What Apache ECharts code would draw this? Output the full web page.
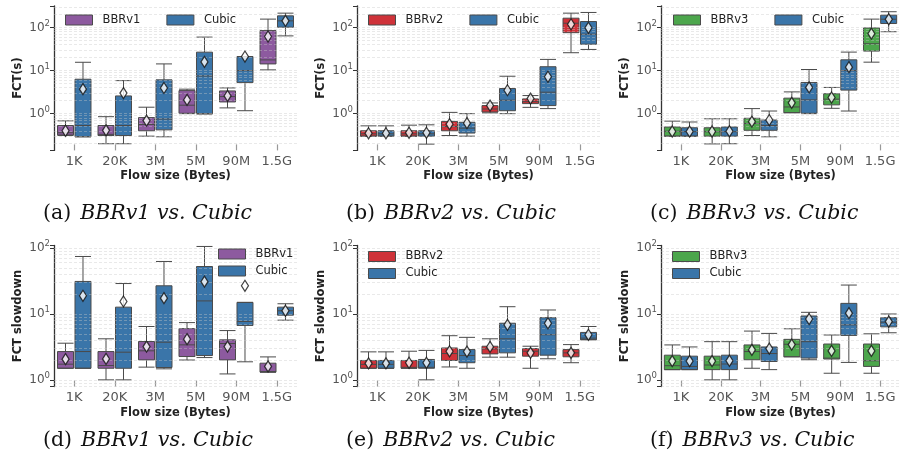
<!DOCTYPE html>
<html>
<head>
<meta charset="utf-8">
<script src="https://cdn.jsdelivr.net/npm/echarts@6/dist/echarts.min.js"></script>
<style>
  html, body { margin: 0; padding: 0; background: #fff; }
  #chart { width: 900px; height: 470px; }
</style>
</head>
<body>
<div id="chart"></div>
<script>
// flow sizes on the x axis
var sizes = ['1K', '20K', '3M', '5M', '90M', '1.5G'];

// boxes are [low whisker, Q1, median, Q3, high whisker], means are the diamonds
// (a) FCT, BBRv1 vs Cubic
var fctBbr1 = [[0.31, 0.32, 0.36, 0.53, 0.68], [0.2, 0.31, 0.33, 0.53, 0.85], [0.30, 0.40, 0.56, 0.81, 1.41],
               [1.0, 1.02, 1.57, 3.43, 3.7], [1.36, 1.87, 2.49, 3.37, 3.96], [10.4, 14.3, 17.7, 85, 157]];
var fctBbr1Mean = [0.40, 0.41, 0.69, 2.08, 2.58, 62];
var fctCubicA = [[0.29, 0.29, 0.53, 6.3, 15.6], [0.2, 0.31, 0.53, 2.58, 5.85], [0.29, 0.42, 0.75, 6.1, 14.3],
                 [0.98, 1.0, 7.5, 26.8, 60], [1.17, 5.26, 10, 21.2, 21.2], [64, 102, 143, 187, 216]];
var fctCubicAMean = [3.7, 3.0, 3.95, 15.9, 21.2, 143];

// (b) FCT, BBRv2 vs Cubic
var fctBbr2 = [[0.30, 0.30, 0.34, 0.40, 0.52], [0.30, 0.30, 0.34, 0.40, 0.54], [0.31, 0.40, 0.50, 0.66, 1.07],
               [1.04, 1.09, 1.28, 1.54, 1.77], [1.40, 1.71, 1.90, 2.2, 2.63], [26, 76, 126, 165, 216]];
var fctBbr2Mean = [0.35, 0.36, 0.57, 1.54, 2.24, 119];
var fctCubicB = [[0.30, 0.30, 0.34, 0.40, 0.52], [0.196, 0.30, 0.34, 0.40, 0.55], [0.30, 0.354, 0.46, 0.63, 1.0],
                 [1.0, 1.17, 2.05, 3.83, 7.4], [1.31, 1.54, 3.15, 12.3, 18.2], [31, 41, 70, 138, 224]];
var fctCubicBMean = [0.35, 0.36, 0.60, 3.5, 7.2, 99];

// (c) FCT, BBRv3 vs Cubic
var fctBbr3 = [[0.30, 0.30, 0.39, 0.49, 0.67], [0.198, 0.30, 0.38, 0.47, 0.76], [0.31, 0.41, 0.59, 0.78, 1.31],
               [1.05, 1.05, 1.43, 2.29, 3.2], [1.33, 1.6, 2.17, 2.9, 4.06], [15.7, 28.4, 42, 98, 157]];
var fctBbr3Mean = [0.385, 0.385, 0.65, 1.78, 2.37, 72];
var fctCubicC = [[0.30, 0.30, 0.38, 0.47, 0.64], [0.2, 0.30, 0.38, 0.49, 0.76], [0.29, 0.41, 0.53, 0.71, 1.15],
                 [1.0, 1.02, 2.09, 5.3, 10.6], [1.15, 3.52, 10, 17.8, 26.9], [80, 124, 156, 194, 233]];
var fctCubicCMean = [0.385, 0.39, 0.71, 4.06, 12.0, 156];

// (d) slowdown, BBRv1 vs Cubic
var sdBbr1 = [[1.5, 1.5, 1.73, 2.69, 3.6], [1.0, 1.5, 1.65, 2.69, 4.2], [1.56, 2.01, 2.76, 3.82, 6.46],
              [2.0, 2.26, 3.4, 6.0, 7.4], [1.23, 2.01, 3.56, 4.05, 5.6], [1.31, 1.31, 1.34, 1.79, 2.23]];
var sdBbr1Mean = [2.06, 2.08, 3.2, 4.15, 3.2, 1.6];
var sdCubicD = [[1.5, 1.5, 2.69, 31.2, 74.7], [1.0, 1.5, 2.63, 12.7, 29], [1.47, 1.54, 3.73, 26.8, 62.7],
                [2.18, 2.34, 15.8, 52.6, 106], [1.88, 6.7, 7.7, 15, 15], [8.06, 9.6, 11.2, 12.7, 14.3]];
var sdCubicDMean = [18.9, 15.5, 17.4, 31, 26.8, 11.2];

// (e) slowdown, BBRv2 vs Cubic
var sdBbr2 = [[1.5, 1.5, 1.72, 1.97, 2.66], [1.5, 1.5, 1.55, 1.97, 2.72], [1.57, 1.97, 2.51, 3.05, 4.68],
              [2.21, 2.48, 2.95, 3.24, 4.2], [1.5, 2.29, 2.72, 2.99, 3.24], [1.82, 2.24, 2.57, 2.88, 3.43]];
var sdBbr2Mean = [1.78, 1.82, 2.72, 3.16, 2.57, 2.57];
var sdCubicE = [[1.5, 1.5, 1.72, 1.97, 2.66], [1.0, 1.5, 1.55, 2.04, 2.8], [1.5, 1.82, 2.34, 2.88, 4.42],
                [2.21, 2.57, 4.2, 7.24, 12.9], [2.09, 2.37, 4.84, 8.8, 11.5], [4.07, 4.07, 4.3, 5.25, 6.46]];
var sdCubicEMean = [1.78, 1.82, 2.69, 6.84, 7.24, 4.84];

// (f) slowdown, BBRv3 vs Cubic
var sdBbr3 = [[1.43, 1.43, 1.64, 2.37, 3.39], [1.0, 1.43, 1.68, 2.29, 3.8], [1.5, 2.02, 2.69, 3.39, 5.5],
              [2.24, 2.24, 3.47, 4.12, 5.96], [1.26, 2.07, 2.14, 3.5, 4.8], [1.26, 1.6, 1.95, 3.5, 5.0]];
var sdBbr3Mean = [1.93, 1.93, 2.85, 3.43, 2.75, 2.75];
var sdCubicF = [[1.43, 1.43, 1.6, 2.29, 3.16], [1.0, 1.43, 1.74, 2.37, 3.8], [1.43, 1.9, 2.51, 3.16, 5.07],
                [2.02, 2.14, 3.8, 9.33, 10.6], [1.84, 4.73, 6.84, 14.5, 27.5], [5.19, 6.38, 7.5, 8.8, 10]];
var sdCubicFMean = [1.93, 1.95, 2.98, 8.4, 10.3, 7.67];

// gridline levels (major + minor log ticks)
var gridLevelsFct = [0.2, 0.3, 0.4, 0.5, 0.6, 0.7, 0.8, 0.9, 1, 2, 3, 4, 5, 6, 7, 8, 9,
                     10, 20, 30, 40, 50, 60, 70, 80, 90, 100, 200, 300];
var gridLevelsSd = [0.8, 0.9, 1, 2, 3, 4, 5, 6, 7, 8, 9, 10, 20, 30, 40, 50, 60, 70, 80, 90, 100];

var PURPLE = '#8d5a9f', RED = '#cf3239', GREEN = '#4ca64c', BLUE = '#3a75a9', EDGE = '#4a4a4a';

var panels = [
  { left: 54,  top: 5.8,   height: 144.6, min: 0.14, max: 320, ylabel: 'FCT(s)', levels: gridLevelsFct,
    names: ['BBRv1', 'Cubic'], colors: [PURPLE, BLUE], boxes: [fctBbr1, fctCubicA], means: [fctBbr1Mean, fctCubicAMean],
    caption: ['(a)', 'BBRv1 vs. Cubic'], legend: { left: 65, top: 14, orient: 'horizontal' } },
  { left: 357, top: 5.8,   height: 144.6, min: 0.14, max: 320, ylabel: 'FCT(s)', levels: gridLevelsFct,
    names: ['BBRv2', 'Cubic'], colors: [RED, BLUE], boxes: [fctBbr2, fctCubicB], means: [fctBbr2Mean, fctCubicBMean],
    caption: ['(b)', 'BBRv2 vs. Cubic'], legend: { left: 368, top: 14, orient: 'horizontal' } },
  { left: 661, top: 5.8,   height: 144.6, min: 0.14, max: 320, ylabel: 'FCT(s)', levels: gridLevelsFct,
    names: ['BBRv3', 'Cubic'], colors: [GREEN, BLUE], boxes: [fctBbr3, fctCubicC], means: [fctBbr3Mean, fctCubicCMean],
    caption: ['(c)', 'BBRv3 vs. Cubic'], legend: { left: 673, top: 14, orient: 'horizontal' } },
  { left: 54,  top: 245.4, height: 141.2, min: 0.79, max: 110, ylabel: 'FCT slowdown', levels: gridLevelsSd,
    names: ['BBRv1', 'Cubic'], colors: [PURPLE, BLUE], boxes: [sdBbr1, sdCubicD], means: [sdBbr1Mean, sdCubicDMean],
    caption: ['(d)', 'BBRv1 vs. Cubic'], legend: { left: 218, top: 248, orient: 'vertical' } },
  { left: 357, top: 245.4, height: 141.2, min: 0.79, max: 110, ylabel: 'FCT slowdown', levels: gridLevelsSd,
    names: ['BBRv2', 'Cubic'], colors: [RED, BLUE], boxes: [sdBbr2, sdCubicE], means: [sdBbr2Mean, sdCubicEMean],
    caption: ['(e)', 'BBRv2 vs. Cubic'], legend: { left: 368, top: 250.5, orient: 'vertical' } },
  { left: 661, top: 245.4, height: 141.2, min: 0.79, max: 110, ylabel: 'FCT slowdown', levels: gridLevelsSd,
    names: ['BBRv3', 'Cubic'], colors: [GREEN, BLUE], boxes: [sdBbr3, sdCubicF], means: [sdBbr3Mean, sdCubicFMean],
    caption: ['(f)', 'BBRv3 vs. Cubic'], legend: { left: 672, top: 250.5, orient: 'vertical' } }
];

var SANS = 'DejaVu Sans';
var grids = [], xAxes = [], yAxes = [], series = [], legends = [], graphics = [];

panels.forEach(function (p, i) {
  grids.push({ left: p.left, top: p.top, width: 243, height: p.height });

  xAxes.push({
    type: 'category', gridIndex: i, data: sizes,
    axisLine: { show: false },
    axisTick: { show: true, inside: true, length: 6, alignWithLabel: true, lineStyle: { color: '#999', width: 1.2 } },
    axisLabel: { color: '#555', fontSize: 13, fontFamily: SANS, margin: 5, interval: 0 },
    splitLine: { show: false },
    name: 'Flow size (Bytes)', nameLocation: 'middle', nameGap: 20,
    nameTextStyle: { color: '#222', fontSize: 11.5, fontWeight: 'bold', fontFamily: SANS }
  });

  yAxes.push({
    type: 'log', logBase: 10, gridIndex: i, min: p.min, max: p.max,
    axisLine: { show: true, lineStyle: { color: '#333', width: 1.3 } },
    axisTick: { show: true, length: 4, lineStyle: { color: '#333' } },
    axisLabel: {
      color: '#555', fontSize: 12, fontFamily: SANS, margin: 4,
      formatter: function (v) {
        var e = Math.log10(v);
        if (Math.abs(e - Math.round(e)) > 1e-6) return '';
        return '10{s|' + Math.round(e) + '}';
      },
      rich: { s: { fontSize: 8.5, color: '#555', fontFamily: SANS, padding: [0, 0, 8, 0] } }
    },
    splitLine: { show: false },
    name: p.ylabel, nameLocation: 'middle', nameGap: 30,
    nameTextStyle: { color: '#222', fontSize: 11.5, fontWeight: 'bold', fontFamily: SANS }
  });

  p.boxes.forEach(function (b, k) {
    series.push({
      type: 'boxplot', name: p.names[k], xAxisIndex: i, yAxisIndex: i,
      data: b, boxWidth: [16, 16], silent: true, z: 2,
      itemStyle: { color: p.colors[k], borderColor: EDGE, borderWidth: 1 },
      emphasis: { disabled: true }
    });
  });

  // dashed log gridlines, drawn over the boxes like the original
  series.push({
    type: 'line', xAxisIndex: i, yAxisIndex: i, data: [], z: 3, silent: true,
    markLine: {
      z: 3, silent: true, symbol: 'none', label: { show: false }, animation: false,
      lineStyle: { color: 'rgba(200,200,200,0.5)', type: [3, 2], width: 0.8 },
      data: p.levels.map(function (v) { return { yAxis: v }; })
    }
  });

  p.means.forEach(function (m, k) {
    series.push({
      type: 'scatter', xAxisIndex: i, yAxisIndex: i, silent: true, z: 6,
      data: m.map(function (v, j) { return [sizes[j], v]; }),
      symbol: 'diamond', symbolSize: [7, 11], symbolOffset: [k === 0 ? -8.7 : 8.7, 0],
      itemStyle: { color: '#fff', borderColor: '#111', borderWidth: 1.3 }
    });
  });

  legends.push({
    left: p.legend.left, top: p.legend.top, orient: p.legend.orient, padding: 0, z: 10,
    data: p.names.map(function (n, k) {
      return { name: n, icon: 'rect', itemStyle: { color: p.colors[k], borderColor: EDGE, borderWidth: 1 } };
    }),
    itemWidth: 27, itemHeight: 10,
    itemGap: p.legend.orient === 'horizontal' ? 26 : 5, selectedMode: false,
    textStyle: { color: '#222', fontSize: 11.5, fontFamily: SANS, padding: [0, 0, 0, 5] }
  });

  graphics.push({
    type: 'text', left: p.left - 11, top: p.top + (i < 3 ? 197 : 185),
    style: {
      text: '{r|' + p.caption[0] + '}{it|' + p.caption[1] + '}',
      rich: {
        r: { fontFamily: 'DejaVu Serif', fontSize: 20.5, fill: '#111', padding: [0, 9, 0, 0] },
        it: { fontFamily: 'DejaVu Serif', fontStyle: 'italic', fontSize: 20.5, fill: '#111' }
      }
    }
  });
});

var myChart = echarts.init(document.getElementById('chart'), null, { renderer: 'canvas' });
myChart.setOption({
  animation: false,
  backgroundColor: '#fff',
  grid: grids,
  xAxis: xAxes,
  yAxis: yAxes,
  legend: legends,
  series: series,
  graphic: graphics
});
</script>
</body>
</html>
